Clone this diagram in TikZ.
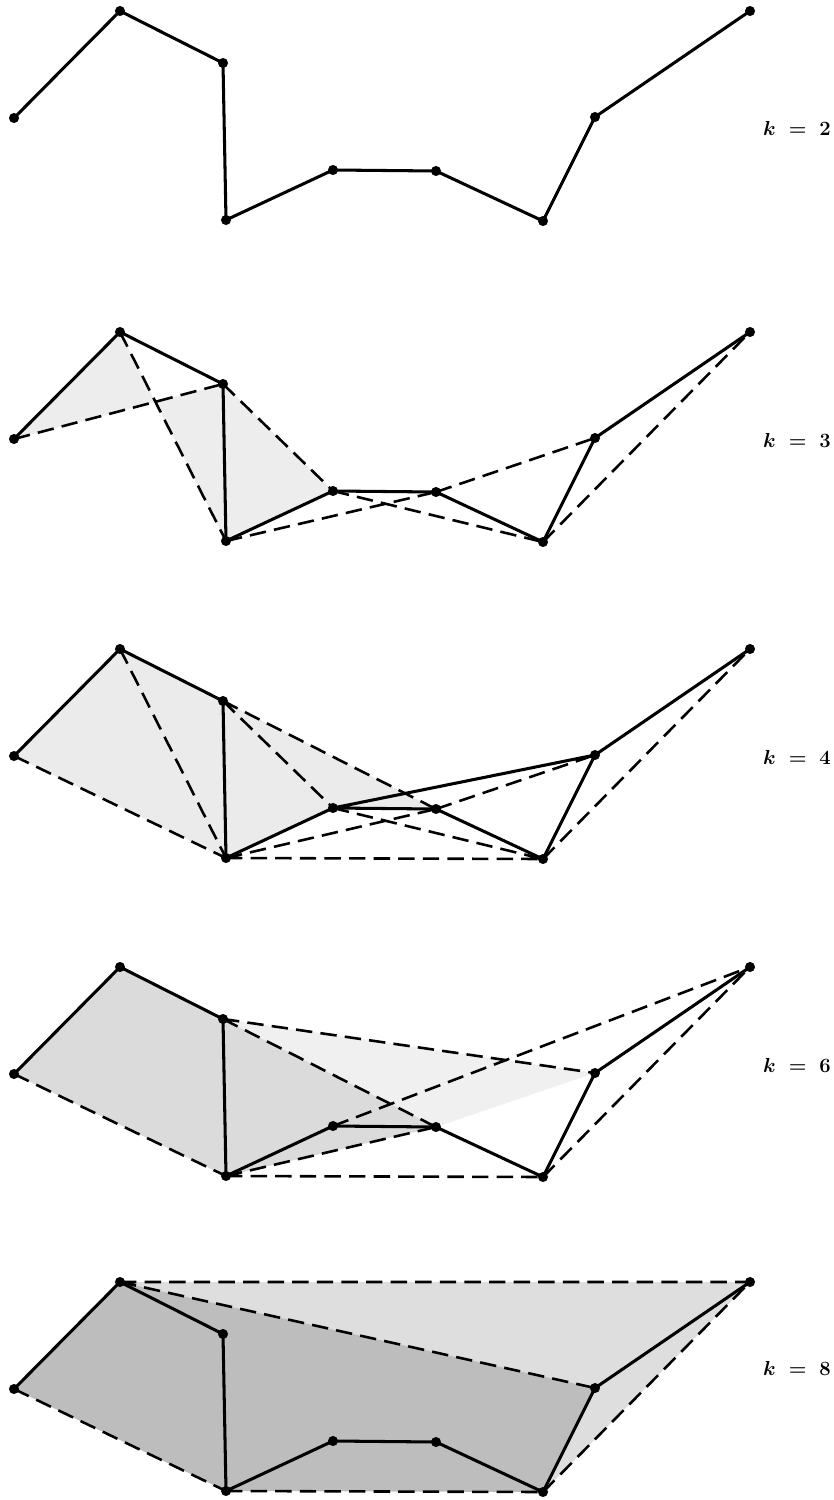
\documentclass[tikz,border=0pt]{standalone}
\newcommand{\polypts}[1]{%
  \path
  (14,118) coordinate (#1-1)
  (120,11) coordinate (#1-2)
  (223,63) coordinate (#1-3)
  (226,220) coordinate (#1-4)
  (333,170) coordinate (#1-5)
  (436,171) coordinate (#1-6)
  (543,221) coordinate (#1-7)
  (595,117) coordinate (#1-8)
  (750,11) coordinate (#1-9)
  ;}
\begin{document}
\begin{tikzpicture}[x=0.3mm, y=-0.3mm, line join=round, line cap=round,
	edge/.style={line width=2.6pt},
	hidden/.style={line width=2.2pt, line cap=butt, dash pattern=on 14pt off 7pt},
	klabel/.style={font=\fontsize{18}{21}\selectfont\boldmath}]
	\useasboundingbox (0,0) rectangle (834,1500);
	% k = 2
	\begin{scope}
		\polypts{a}
		\draw[edge] (a-1)--(a-2)--(a-3)--(a-4)--(a-5)--(a-6)--(a-7)--(a-8)--(a-9);
		\foreach \i in {1,...,9} \fill (a-\i) circle (4.3pt);
	\end{scope}
	\node[klabel] (k2) at (797,128) {$k\;=\;2$};
	% k = 3
	\begin{scope}[shift={(0,321)}]
		\polypts{b}
		\fill[black!7] (b-1)--(b-2)--(b-3)--cycle (b-2)--(b-4)--(b-5)--(b-3)--cycle;
		\draw[hidden] (b-1)--(b-3) (b-2)--(b-4) (b-3)--(b-5) (b-4)--(b-6) (b-5)--(b-7) (b-6)--(b-8) (b-7)--(b-9);
		\draw[edge] (b-1)--(b-2)--(b-3)--(b-4)--(b-5)--(b-6)--(b-7)--(b-8)--(b-9);
		\foreach \i in {1,...,9} \fill (b-\i) circle (4.3pt);
	\end{scope}
	\node[klabel] (k3) at (797,440) {$k\;=\;3$};
	% k = 4
	\begin{scope}[shift={(0,638)}]
		\polypts{c}
		\fill[black!8] (c-1)--(c-2)--(c-3)--(c-6)--(c-5)--(c-4)--cycle;
		\draw[hidden] (c-1)--(c-4) (c-2)--(c-4) (c-3)--(c-5) (c-3)--(c-6) (c-4)--(c-6) (c-4)--(c-7) (c-5)--(c-7) (c-6)--(c-8) (c-7)--(c-9);
		\draw[edge] (c-1)--(c-2)--(c-3)--(c-4)--(c-5)--(c-6)--(c-7)--(c-8)--(c-9) (c-5)--(c-8);
		\foreach \i in {1,...,9} \fill (c-\i) circle (4.3pt);
	\end{scope}
	\node[klabel] (k4) at (797,757) {$k\;=\;4$};
	% k = 6
	\begin{scope}[shift={(0,956)}]
		\polypts{d}
		\fill[black!6] (d-3)--(d-8)--(d-6)--cycle;
		\fill[black!14] (d-1)--(d-2)--(d-3)--(d-6)--(d-4)--cycle;
		\draw[hidden] (d-1)--(d-4) (d-3)--(d-6) (d-3)--(d-8) (d-4)--(d-6) (d-4)--(d-7) (d-5)--(d-9) (d-7)--(d-9);
		\draw[edge] (d-1)--(d-2)--(d-3)--(d-4)--(d-5)--(d-6)--(d-7)--(d-8)--(d-9);
		\foreach \i in {1,...,9} \fill (d-\i) circle (4.3pt);
	\end{scope}
	\node[klabel] (k6) at (797,1065) {$k\;=\;6$};
	% k = 8
	\begin{scope}[shift={(0,1271)}]
		\polypts{e}
		\fill[black!13] (e-2)--(e-9)--(e-8)--cycle;
		\fill[black!26] (e-1)--(e-2)--(e-8)--(e-7)--(e-4)--cycle;
		\fill[black!13] (e-8)--(e-9)--(e-7)--cycle;
		\draw[hidden] (e-1)--(e-4) (e-2)--(e-8) (e-2)--(e-9) (e-4)--(e-7) (e-7)--(e-9);
		\draw[edge] (e-1)--(e-2)--(e-3)--(e-4)--(e-5)--(e-6)--(e-7)--(e-8)--(e-9);
		\foreach \i in {1,...,9} \fill (e-\i) circle (4.3pt);
	\end{scope}
	\node[klabel] (k8) at (797,1368) {$k\;=\;8$};
\end{tikzpicture}
\end{document}
